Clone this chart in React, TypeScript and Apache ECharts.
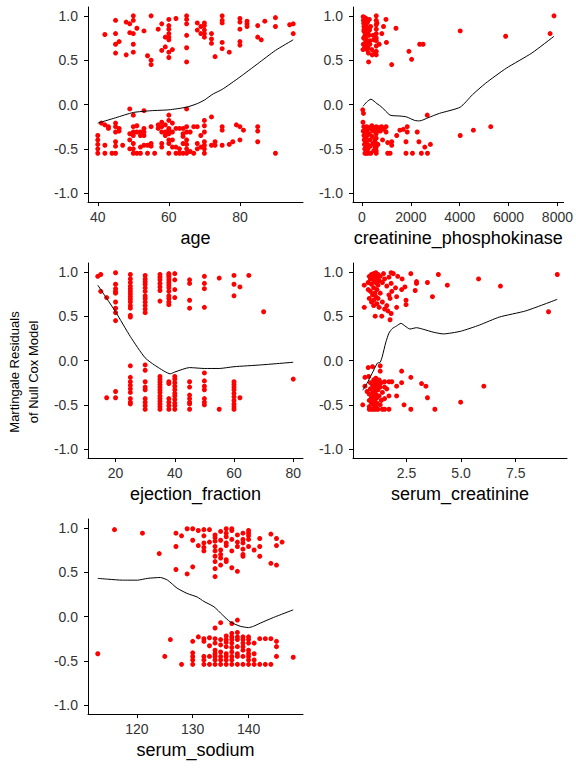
import React, { useEffect, useRef } from "react";
import * as echarts from "echarts";

const yTicks = [-1, -0.5, 0, 0.5, 1];
const ageTicks = [40, 60, 80];
const cpkTicks = [0, 2000, 4000, 6000, 8000];
const efTicks = [20, 40, 60, 80];
const scTicks = [2.5, 5, 7.5];
const sodiumTicks = [120, 130, 140];

const ageGroups: [number, number[]][] = [
  [40, [-0.35, -0.4, -0.45, -0.5, -0.55]],
  [41, [-0.21]],
  [42, [0.79, -0.23, -0.46, -0.55]],
  [43, [-0.25, -0.27]],
  [44, [-0.55]],
  [45, [0.95, 0.8, 0.68, 0.58, -0.21, -0.25, -0.31, -0.42, -0.47, -0.55]],
  [46, [0.71, -0.27, -0.3]],
  [47, [-0.46]],
  [48, [0.93, 0.56]],
  [49, [0.91, 0.81, -0.05, -0.33, -0.4, -0.5]],
  [50, [1.0, 0.95, 0.8, 0.68, 0.59, -0.12, -0.25, -0.31, -0.35, -0.44, -0.5, -0.55]],
  [51, [0.86, -0.24, -0.31, -0.55]],
  [52, [-0.31, -0.35, -0.48, -0.55]],
  [53, [0.83, -0.07, -0.27, -0.31, -0.35, -0.46]],
  [54, [0.55, -0.46, -0.55]],
  [55, [1.0, 0.5, 0.45, -0.25, -0.44, -0.47]],
  [56, [-0.55]],
  [57, [0.85, -0.23, -0.27]],
  [58, [0.91, 0.61, -0.2, -0.25, -0.31, -0.44, -0.48]],
  [59, [0.76, 0.65, -0.23, -0.31, -0.35]],
  [60, [0.96, 0.89, 0.85, 0.8, 0.76, 0.73, 0.59, 0.53, -0.12, -0.18, -0.27, -0.29, -0.33, -0.4, -0.44, -0.55]],
  [61, [0.62, -0.21, -0.31, -0.4, -0.48]],
  [62, [0.97, -0.27, -0.48, -0.55]],
  [63, [-0.27, -0.5, -0.55]],
  [64, [-0.27, -0.33, -0.36, -0.44, -0.55]],
  [65, [1.0, 0.96, 0.91, 0.78, 0.64, 0.48, -0.05, -0.25, -0.31, -0.4, -0.45, -0.5, -0.55]],
  [66, [-0.31, -0.53]],
  [67, [-0.25, -0.55]],
  [68, [0.92, 0.84, -0.25, -0.44, -0.5]],
  [69, [0.88, 0.8, -0.35, -0.48]],
  [70, [0.92, 0.89, 0.84, 0.8, 0.76, -0.18, -0.24, -0.31, -0.42, -0.46, -0.5, -0.55]],
  [72, [0.8, 0.74, 0.69, -0.14, -0.46]],
  [73, [0.54, -0.42, -0.46]],
  [75, [1.0, 0.95, 0.92, 0.7, 0.63, -0.25, -0.29, -0.46]],
  [77, [0.59, -0.45]],
  [78, [-0.42]],
  [79, [-0.23]],
  [80, [0.97, 0.93, 0.85, 0.71, 0.67, -0.25, -0.4]],
  [81, [-0.29]],
  [82, [0.94, 0.91, 0.88]],
  [85, [0.89, 0.76, -0.25, -0.3, -0.42]],
  [86, [0.73]],
  [87, [0.94]],
  [90, [0.98, 0.88, -0.55]],
  [94, [0.9]],
  [95, [0.91, 0.8]],
];
const ageSmoothX = [40, 45, 50, 55, 60, 65, 68, 70, 72.5, 75, 80, 85, 90, 95];
const ageSmoothY = [-0.21, -0.15, -0.09, -0.07, -0.06, -0.03, 0.01, 0.05, 0.12, 0.17, 0.31, 0.46, 0.61, 0.73];

const cpkPoints: [number, number][] = [
  [40, 0.62], [47, 0.99], [55, 0.68], [60, 0.95], [65, 0.75], [70, 0.92], [75, 0.83], [80, 0.88],
  [85, 0.91], [90, 0.85], [95, 0.97], [100, 0.82], [110, 0.64], [115, 0.98], [125, 0.78], [130, 0.87],
  [140, 0.75], [145, 0.93], [150, 0.72], [160, 0.97], [165, 0.8], [170, 0.9], [180, 0.7], [185, 0.85],
  [190, 0.66], [200, 0.62], [210, 0.86], [220, 0.72], [230, 0.93], [240, 0.64], [250, 0.8], [260, 0.58],
  [270, 0.48], [280, 0.78], [300, 0.96], [310, 0.84], [320, 0.68], [330, 0.72], [350, 0.88], [400, 0.62],
  [420, 0.56], [450, 0.78], [480, 0.73], [520, 0.58], [582, 1.0], [582, 0.95], [582, 0.9], [582, 0.85],
  [582, 0.8], [582, 0.75], [582, 0.72], [582, 0.66], [582, 0.6], [582, 0.56], [610, 0.92], [700, 0.68],
  [810, 0.8], [880, 0.88], [980, 0.96], [1000, 0.7], [1215, 0.45], [1390, 0.86], [1920, 0.6], [2030, 0.51],
  [2360, 0.68], [2500, 0.68], [4020, 0.83], [5880, 0.77], [7700, 0.8], [7861, 1.0],
  [30, -0.06], [60, -0.1], [40, -0.2], [70, -0.25], [50, -0.3], [80, -0.35], [90, -0.4], [100, -0.45],
  [110, -0.5], [120, -0.55], [130, -0.28], [140, -0.32], [150, -0.38], [160, -0.42], [170, -0.48], [180, -0.55],
  [190, -0.25], [200, -0.3], [215, -0.35], [230, -0.45], [245, -0.5], [260, -0.55], [280, -0.26], [300, -0.33],
  [320, -0.4], [340, -0.47], [360, -0.55], [380, -0.28], [400, -0.24], [420, -0.36], [440, -0.44], [460, -0.3],
  [480, -0.52], [500, -0.27], [520, -0.4], [540, -0.48], [582, -0.25], [582, -0.29], [582, -0.33], [582, -0.38],
  [582, -0.44], [582, -0.48], [582, -0.52], [582, -0.55], [620, -0.3], [650, -0.45], [700, -0.26], [750, -0.3],
  [800, -0.25], [840, -0.4], [900, -0.28], [985, -0.25], [985, -0.31], [1050, -0.43], [1050, -0.55], [1150, -0.55],
  [1215, -0.42], [1215, -0.46], [1420, -0.35], [1550, -0.29], [1690, -0.28], [1800, -0.42], [1800, -0.55], [1850, -0.25],
  [1850, -0.31], [2065, -0.55], [2260, -0.31], [2330, -0.42], [2430, -0.55], [2570, -0.48], [2680, -0.55], [2670, -0.12],
  [2800, -0.45], [4020, -0.35], [4560, -0.29], [5270, -0.25],
];
const cpkSmoothX = [40, 200, 365, 610, 810, 1150, 1550, 1820, 2160, 2360, 2700, 3170, 4020, 4520, 5060, 5910, 6950, 7861];
const cpkSmoothY = [-0.02, 0.03, 0.06, 0.01, -0.03, -0.12, -0.13, -0.14, -0.18, -0.185, -0.15, -0.1, -0.03, 0.11, 0.24, 0.41, 0.58, 0.77];

const efGroups: [number, number[]][] = [
  [14, [0.95]],
  [15, [0.97, 0.78]],
  [17, [0.71, -0.42]],
  [20, [0.99, 0.86, 0.81, 0.78, 0.76, 0.66, 0.59, 0.54, 0.45, -0.35, -0.42]],
  [25, [0.97, 0.92, 0.88, 0.84, 0.81, 0.78, 0.75, 0.72, 0.69, 0.66, 0.62, 0.59, 0.51, 0.49,
    -0.06, -0.19, -0.24, -0.28, -0.32, -0.36, -0.43, -0.47, -0.49]],
  [30, [0.96, 0.92, 0.89, 0.86, 0.82, 0.78, 0.73, 0.7, 0.66, 0.62, 0.58, 0.54,
    -0.05, -0.11, -0.24, -0.3, -0.33, -0.43, -0.47, -0.51, -0.55]],
  [35, [0.97, 0.94, 0.91, 0.87, 0.83, 0.79, 0.67,
    -0.18, -0.21, -0.24, -0.27, -0.3, -0.33, -0.36, -0.4, -0.43, -0.46, -0.49, -0.52, -0.55]],
  [38, [0.98, 0.96, 0.94, 0.91, 0.88, 0.85, 0.82, 0.78, 0.73, 0.7, 0.66, 0.63,
    -0.24, -0.26, -0.43, -0.47, -0.51, -0.55]],
  [40, [0.98, 0.91, 0.8, 0.71, -0.18, -0.21, -0.25, -0.29, -0.33, -0.37, -0.4, -0.44, -0.48, -0.51, -0.55]],
  [45, [0.91, 0.87, 0.68, 0.59, -0.24, -0.3, -0.39, -0.43, -0.47, -0.49, -0.55]],
  [50, [0.95, 0.87, 0.81, 0.6, -0.14, -0.23, -0.29, -0.33, -0.43, -0.47, -0.5]],
  [55, [0.93, -0.55]],
  [60, [0.96, 0.86, 0.73, -0.24, -0.27, -0.3, -0.33, -0.37, -0.41, -0.45, -0.49, -0.52, -0.55]],
  [62, [0.83, -0.42]],
  [65, [0.96]],
  [70, [0.55]],
  [80, [-0.21]],
];
const efSmoothX = [14, 17, 20, 25, 30, 34, 38.5, 40, 45, 50, 55, 60, 69, 80];
const efSmoothY = [0.85, 0.7, 0.55, 0.27, 0.03, -0.07, -0.15, -0.13, -0.08, -0.09, -0.09, -0.07, -0.05, -0.02];

const scPoints: [number, number][] = [
  [0.57, 0.85], [0.57, 0.6], [0.75, 0.88], [0.75, 0.8], [0.8, 0.95], [0.8, 0.7], [0.85, 0.92], [0.85, 0.78],
  [0.9, 0.97], [0.9, 0.86], [0.9, 0.66], [0.95, 0.93], [0.95, 0.74], [1.0, 0.98], [1.0, 0.9], [1.0, 0.82],
  [1.0, 0.68], [1.0, 0.62], [1.05, 0.95], [1.05, 0.76], [1.1, 0.99], [1.1, 0.88], [1.1, 0.72], [1.07, 0.5],
  [1.15, 0.93], [1.15, 0.8], [1.15, 0.64], [1.2, 0.97], [1.2, 0.85], [1.2, 0.7], [1.25, 0.9], [1.25, 0.6],
  [1.3, 0.95], [1.3, 0.76], [1.37, 0.5], [1.4, 0.88], [1.4, 0.66], [1.45, 0.98], [1.5, 0.92], [1.5, 0.58],
  [1.6, 0.84], [1.6, 0.62], [1.65, 0.56], [1.7, 0.94], [1.7, 0.74], [1.75, 0.7], [1.75, 0.46], [1.8, 0.99],
  [1.8, 0.87], [1.8, 0.53], [1.83, 0.78], [1.9, 0.98], [2.0, 0.82], [2.05, 0.72], [2.05, 0.6], [2.1, 0.95],
  [2.28, 0.8], [2.3, 0.92], [2.43, 0.83], [2.48, 0.68], [2.48, 0.63], [2.7, 0.98], [2.9, 0.79], [2.96, 0.89],
  [2.96, 0.87], [3.46, 0.88], [3.69, 0.72], [3.96, 0.97], [4.37, 0.85], [5.8, 0.92], [6.8, 0.84], [9.0, 0.55],
  [9.4, 0.97],
  [0.5, -0.5], [0.6, -0.19], [0.6, -0.29], [0.7, -0.35], [0.75, -0.08], [0.77, -0.18], [0.8, -0.38], [0.8, -0.45],
  [0.8, -0.52], [0.8, -0.55], [0.85, -0.25], [0.85, -0.32], [0.9, -0.42], [0.9, -0.48], [0.9, -0.55], [0.95, -0.07],
  [0.95, -0.28], [0.95, -0.36], [1.0, -0.22], [1.0, -0.3], [1.0, -0.4], [1.0, -0.44], [1.0, -0.5], [1.0, -0.55],
  [1.05, -0.26], [1.05, -0.34], [1.05, -0.46], [1.1, -0.2], [1.1, -0.31], [1.1, -0.38], [1.1, -0.52], [1.1, -0.55],
  [1.15, -0.24], [1.15, -0.42], [1.15, -0.48], [1.2, -0.28], [1.2, -0.33], [1.2, -0.55], [1.25, -0.22], [1.25, -0.4],
  [1.3, -0.06], [1.3, -0.12], [1.3, -0.3], [1.3, -0.5], [1.35, -0.25], [1.35, -0.45], [1.4, -0.36], [1.4, -0.55],
  [1.5, -0.24], [1.5, -0.3], [1.5, -0.43], [1.5, -0.55], [1.6, -0.32], [1.7, -0.24], [1.7, -0.4], [1.7, -0.55],
  [1.83, -0.24], [2.05, -0.29], [2.05, -0.4], [2.28, -0.12], [2.28, -0.25], [2.39, -0.5], [2.7, -0.19], [2.7, -0.55],
  [3.19, -0.26], [3.39, -0.29], [3.46, -0.42], [3.8, -0.55], [4.98, -0.47], [6.04, -0.29],
];
const scSmoothX = [0.5, 0.69, 0.92, 1.17, 1.3, 1.4, 1.55, 1.7, 1.85, 2.05, 2.25, 2.43, 2.66, 2.96, 3.3, 3.72, 4.18, 4.98, 5.84, 6.75, 7.96, 9.4];
const scSmoothY = [-0.335, -0.26, -0.15, -0.03, -0.02, 0.05, 0.2, 0.31, 0.36, 0.39, 0.42, 0.39, 0.355, 0.37, 0.35, 0.32, 0.3, 0.33, 0.4, 0.49, 0.56, 0.69];

const sodiumGroups: [number, number[]][] = [
  [113, [-0.42]],
  [116, [0.98]],
  [121, [0.94]],
  [124, [0.71]],
  [125, [-0.45]],
  [126, [-0.26]],
  [127, [0.94, 0.79, 0.53]],
  [128, [0.91, -0.54]],
  [129, [0.99, 0.48]],
  [130, [0.99, 0.86, 0.56, -0.28, -0.41, -0.45, -0.49, -0.54]],
  [131, [0.97, 0.8, -0.23]],
  [132, [0.98, 0.91, 0.83, 0.78, 0.74, -0.25, -0.28, -0.45, -0.49, -0.54]],
  [133, [0.98, 0.84, -0.24, -0.33, -0.45, -0.54]],
  [134, [0.92, 0.89, 0.85, 0.79, 0.74, 0.68, 0.62, 0.54, 0.45, -0.13, -0.25, -0.3, -0.38, -0.42, -0.45, -0.49, -0.54]],
  [135, [0.96, 0.86, 0.75, 0.7, 0.66, 0.58, -0.07, -0.26, -0.32, -0.4, -0.45, -0.49, -0.54]],
  [136, [0.99, 0.94, 0.9, 0.83, 0.8, 0.64, 0.62, -0.22, -0.26, -0.29, -0.34, -0.42, -0.45, -0.49, -0.54]],
  [137, [0.99, 0.97, 0.87, 0.74, 0.55, -0.08, -0.19, -0.23, -0.26, -0.3, -0.35, -0.4, -0.45, -0.49, -0.54]],
  [138, [0.92, 0.84, 0.79, 0.51, -0.04, -0.18, -0.23, -0.26, -0.34, -0.42, -0.45, -0.54]],
  [139, [0.94, 0.87, 0.83, 0.76, 0.7, 0.68, -0.23, -0.26, -0.3, -0.34, -0.38, -0.45, -0.54]],
  [140, [0.97, 0.94, 0.91, 0.87, 0.79, -0.23, -0.26, -0.3, -0.38, -0.42, -0.45, -0.49, -0.54]],
  [141, [0.75, -0.3, -0.42, -0.49, -0.54]],
  [142, [0.88, 0.79, 0.68, -0.25, -0.54]],
  [143, [-0.25, -0.54]],
  [144, [0.93, 0.6, -0.25, -0.54]],
  [145, [0.88, 0.8, 0.58, -0.28, -0.34, -0.45]],
  [146, [0.84]],
  [148, [-0.46]],
];
const sodiumSmoothX = [113, 115, 117.4, 120.1, 121.9, 124.2, 125.5, 127.2, 129, 130.8, 132, 133.8, 135.3, 136.7, 138.5, 140, 140.9, 142.1, 144.5, 148];
const sodiumSmoothY = [0.43, 0.42, 0.41, 0.41, 0.43, 0.44, 0.41, 0.32, 0.26, 0.22, 0.17, 0.11, 0.02, -0.06, -0.11, -0.125, -0.11, -0.075, -0.01, 0.075];

const expand = (groups: [number, number[]][]) =>
  groups.flatMap(([x, ys]) => ys.map((y) => [x, y]));
const zip = (xs: number[], ys: number[]) => xs.map((x, i) => [x, ys[i]]);

const FONT = "'Liberation Sans', Arial, Helvetica, sans-serif";

export default function App() {
  const ref = useRef<HTMLDivElement>(null);

  useEffect(() => {
    if (!ref.current) return;
    const chart = echarts.init(ref.current, undefined, { renderer: "svg" });

    const panels = [
      { name: "age", pts: expand(ageGroups), line: zip(ageSmoothX, ageSmoothY), min: 37.25, max: 97.75, ticks: ageTicks, dec: 0, left: 88, top: 7, width: 215 },
      { name: "creatinine_phosphokinase", pts: cpkPoints, line: zip(cpkSmoothX, cpkSmoothY), min: -369, max: 8253, ticks: cpkTicks, dec: 0, left: 353, top: 7, width: 214 },
      { name: "ejection_fraction", pts: expand(efGroups), line: zip(efSmoothX, efSmoothY), min: 10.7, max: 83.3, ticks: efTicks, dec: 0, left: 88, top: 263, width: 215 },
      { name: "serum_creatinine", pts: scPoints, line: zip(scSmoothX, scSmoothY), min: 0.055, max: 9.845, ticks: scTicks, dec: 1, left: 353, top: 263, width: 214 },
      { name: "serum_sodium", pts: expand(sodiumGroups), line: zip(sodiumSmoothX, sodiumSmoothY), min: 111.25, max: 149.75, ticks: sodiumTicks, dec: 0, left: 88, top: 519, width: 215 },
    ];

    const axisLine = { show: true, onZero: false, lineStyle: { color: "#000", width: 1 } };

    const option: any = {
      animation: false,
      backgroundColor: "#fff",
      grid: panels.map((p) => ({ left: p.left, top: p.top, width: p.width, height: 195, containLabel: false })),
      xAxis: panels.map((p, i) => ({
        type: "value",
        gridIndex: i,
        min: p.min,
        max: p.max,
        name: p.name,
        nameLocation: "middle",
        nameGap: 27,
        nameTextStyle: { fontSize: 18, color: "#000", fontFamily: FONT },
        axisLine,
        axisTick: { show: true, customValues: p.ticks, length: 4, lineStyle: { color: "#000", width: 1 } },
        axisLabel: {
          customValues: p.ticks,
          formatter: (v: number) => v.toFixed(p.dec),
          fontSize: 14,
          color: "#333",
          fontFamily: FONT,
          margin: 8,
        },
        splitLine: { show: false },
      })),
      yAxis: panels.map((p, i) => ({
        type: "value",
        gridIndex: i,
        min: -1.1,
        max: 1.1,
        axisLine,
        axisTick: { show: true, customValues: yTicks, length: 4, lineStyle: { color: "#000", width: 1 } },
        axisLabel: {
          customValues: yTicks,
          formatter: (v: number) => v.toFixed(1),
          fontSize: 14,
          color: "#333",
          fontFamily: FONT,
          margin: 10,
        },
        splitLine: { show: false },
      })),
      series: panels.flatMap((p, i) => [
        {
          type: "scatter",
          xAxisIndex: i,
          yAxisIndex: i,
          data: p.pts,
          symbol: "circle",
          symbolSize: 5,
          itemStyle: { color: "#FF0000", opacity: 1 },
          silent: true,
        },
        {
          type: "line",
          xAxisIndex: i,
          yAxisIndex: i,
          data: p.line,
          showSymbol: false,
          symbol: "none",
          smooth: 0.2,
          lineStyle: { color: "#000", width: 1 },
          silent: true,
          z: 3,
        },
      ]),
      graphic: [
        {
          type: "text",
          x: 14,
          y: 372,
          rotation: Math.PI / 2,
          style: { text: "Martingale Residuals", font: `13px ${FONT}`, fill: "#000", align: "center", verticalAlign: "middle" },
        },
        {
          type: "text",
          x: 33,
          y: 372,
          rotation: Math.PI / 2,
          style: { text: "of Null Cox Model", font: `13px ${FONT}`, fill: "#000", align: "center", verticalAlign: "middle" },
        },
      ],
    };

    chart.setOption(option);
    return () => chart.dispose();
  }, []);

  return (
    <div
      ref={ref}
      style={{ position: "fixed", left: 0, top: 0, width: 576, height: 768, background: "#fff" }}
    />
  );
}
